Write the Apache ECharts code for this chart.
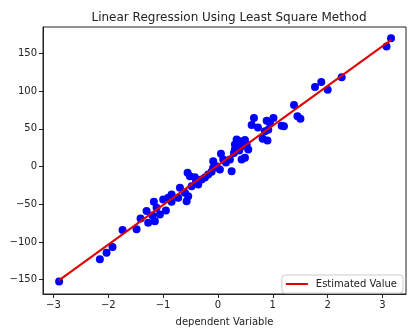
<!DOCTYPE html>
<html>
<head>
<meta charset="utf-8">
<script src="https://cdn.jsdelivr.net/npm/echarts@6/dist/echarts.min.js"></script>
<style>
  html, body { margin: 0; padding: 0; background: #fff; }
  #chart { width: 408px; height: 332px; }
</style>
</head>
<body>
<div id="chart"></div>
<script>
// sample points
const pointX = [
  3.157, 3.075, 2.257, 1.770, 1.885, 2.002, 1.387, 1.451, 1.505, 1.162,
  1.204, 0.657, 0.615, 0.889, 1.013, 0.949, 0.858, 0.918, 0.816, 0.903,
  0.341, 0.310, 0.432, 0.524, 0.553, 0.389, 0.292, 0.401, 0.493, 0.432,
  0.055, 0.097, 0.250, -0.024, 0.036, -0.086, -0.115, -0.177, -0.297, -0.420,
  -0.553, -0.511, -0.359, -0.480, -0.693, -0.602, -0.845, -0.724, -0.542, -0.907,
  -0.845, 0.219, -0.086, -0.571, 0.310, -0.998, -1.168, -0.949, -1.119, -1.058,
  -1.150, -1.301, -1.272, -1.411, -1.484, -1.739, -1.922, -2.031, -2.153, -2.896,
  -1.192, 0.493, -0.237, 0.146, 0.730, -0.401
]
const pointY = [
  170.2, 159.1, 118.4, 105.4, 112.2, 101.9, 81.7, 66.8, 63.5, 54.2,
  53.3, 64.4, 55.2, 60.8, 64.4, 57.8, 46.7, 48.9, 37.0, 34.4,
  35.7, 29.1, 26.9, 29.1, 22.5, 21.2, 18.1, 33.5, 11.5, 9.3,
  16.8, 9.3, -6.2, 0.4, -4.0, -1.7, -7.0, -10.6, -17.2, -14.2,
  -8.3, -12.8, -23.8, -26.1, -28.2, -34.8, -37.0, -41.4, -39.3, -41.4,
  -46.7, 9.3, 7.0, -45.9, 22.5, -43.7, -46.7, -58.2, -54.6, -63.5,
  -72.4, -59.1, -74.5, -68.8, -83.3, -84.3, -106.7, -114.2, -123.0, -152.5,
  -64.8, 35.1, -14.6, 5.3, 51.6, -21.2
]

// fitted line end points
const lineX = [-2.90, 3.16]
const lineY = [-151, 168]

const xTicks = [-3, -2, -1, 0, 1, 2, 3]
const yTicks = [-150, -100, -50, 0, 50, 100, 150]

const titleText = 'Linear Regression Using Least Square Method'
const xName = 'dependent Variable'
const lineName = 'Estimated Value'

const fmt = v => String(v).replace('-', '\u2212')

const chart = echarts.init(document.getElementById('chart'), null, { renderer: 'canvas' })

chart.setOption({
  animation: false,
  backgroundColor: '#fff',
  textStyle: { fontFamily: 'DejaVu Sans' },
  title: {
    text: titleText,
    left: 224,
    textAlign: 'center',
    top: 7,
    textStyle: { fontSize: 12, fontWeight: 'normal', color: '#222', fontFamily: 'DejaVu Sans' }
  },
  grid: {
    left: 43, right: 2, top: 27, bottom: 37,
    show: true, borderColor: '#222', borderWidth: 1
  },
  legend: {
    right: 5,
    bottom: 39,
    padding: [4, 6, 4, 4],
    itemWidth: 22,
    itemHeight: 2,
    borderColor: '#ccc',
    borderWidth: 1,
    borderRadius: 3,
    backgroundColor: '#fff',
    textStyle: { fontSize: 10, color: '#222', fontFamily: 'DejaVu Sans', padding: [0, 0, 0, 3] },
    data: [{ name: lineName, icon: 'rect' }]
  },
  xAxis: {
    type: 'value',
    min: -3.19,
    max: 3.43,
    name: xName,
    nameLocation: 'middle',
    nameGap: 23,
    nameTextStyle: { fontSize: 10, color: '#222' },
    axisLine: { show: true, onZero: false, lineStyle: { color: '#222' } },
    axisTick: { show: true, length: 4, customValues: xTicks, lineStyle: { color: '#222' } },
    axisLabel: { customValues: xTicks, fontSize: 10, color: '#222', margin: 6, formatter: fmt },
    splitLine: { show: false }
  },
  yAxis: {
    type: 'value',
    min: -169,
    max: 185,
    axisLine: { show: true, onZero: false, lineStyle: { color: '#222' } },
    axisTick: { show: true, length: 4, customValues: yTicks, lineStyle: { color: '#222' } },
    axisLabel: { customValues: yTicks, fontSize: 10, color: '#222', margin: 6, formatter: fmt },
    splitLine: { show: false }
  },
  series: [
    {
      type: 'scatter',
      data: pointX.map((x, i) => [x, pointY[i]]),
      symbolSize: 8,
      itemStyle: { color: '#0000ff', opacity: 1 },
      z: 2
    },
    {
      name: lineName,
      type: 'line',
      data: lineX.map((x, i) => [x, lineY[i]]),
      symbol: 'none',
      lineStyle: { color: '#e00000', width: 2 },
      itemStyle: { color: '#e00000' },
      z: 3
    }
  ]
})
</script>
</body>
</html>
